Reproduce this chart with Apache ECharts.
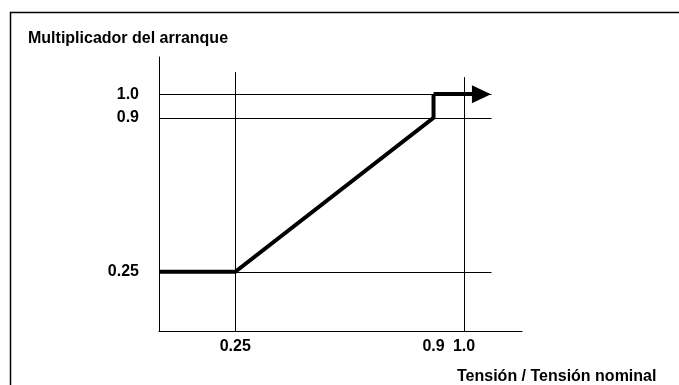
<!DOCTYPE html>
<html>
<head>
<meta charset="utf-8">
<script src="https://cdn.jsdelivr.net/npm/echarts@6/dist/echarts.min.js"></script>
<style>
  html, body { margin: 0; padding: 0; background: #fff; }
  #chart { width: 679px; height: 385px; }
</style>
</head>
<body>
<div id="chart"></div>
<script>
// curva del multiplicador (x = tension / tension nominal, y = multiplicador)
var curveX = [0, 0.25, 0.9, 0.9];
var curveY = [0.25, 0.25, 0.9, 1.0];
var arrowEndX = 1.057;
// marcas de los ejes
var xTicks = [0.25, 0.9, 1.0];
var yTicks = [0.25, 0.9, 1.0];
var xLabels = ['0.25', '0.9', '1.0'];
var yLabels = ['0.25', '0.9', '1.0'];
// longitud de las lineas de referencia
var hGridEnd = 1.09;
var vGridTop = [1.093, 1.093, 1.072];
var vGridBottom = [0, -0.02, 0];

var font = 'Liberation Sans, Arial, sans-serif';

var chart = echarts.init(document.getElementById('chart'), null, { renderer: 'canvas' });

var curveData = curveX.map(function (x, i) { return [x, curveY[i]]; });

var gridLines = [];
// horizontales
gridLines.push([{ coord: [0, yTicks[2]] }, { coord: [hGridEnd, yTicks[2]] }]);
gridLines.push([{ coord: [0, yTicks[1]] }, { coord: [hGridEnd, yTicks[1]] }]);
gridLines.push([{ coord: [xTicks[0], yTicks[0]] }, { coord: [hGridEnd, yTicks[0]] }]);
// verticales
xTicks.forEach(function (x, i) {
    gridLines.push([{ coord: [x, vGridBottom[i]] }, { coord: [x, vGridTop[i]] }]);
});

function labelOf(values, labels) {
    return function (v) {
        for (var i = 0; i < values.length; i++) {
            if (Math.abs(values[i] - v) < 1e-6) return labels[i];
        }
        return '';
    };
}

var option = {
    animation: false,
    backgroundColor: '#fff',
    title: [{
        text: 'Multiplicador del arranque',
        left: 28, top: 31, padding: 0,
        textStyle: { fontFamily: font, fontSize: 16, fontWeight: 'bold', color: '#000' }
    }, {
        text: 'Tensión / Tensión nominal',
        left: 457, top: 369, padding: 0,
        textStyle: { fontFamily: font, fontSize: 16, fontWeight: 'bold', color: '#000' }
    }],
    graphic: [{
        type: 'rect',
        shape: { x: 10.5, y: 12.5, width: 720, height: 420 },
        style: { fill: 'none', stroke: '#000', lineWidth: 1.5 },
        silent: true
    }],
    grid: { left: 159, right: 157, top: 57, bottom: 54 },
    xAxis: {
        type: 'value', min: 0, max: 1.19,
        axisLine: { lineStyle: { color: '#000', width: 1 } },
        axisTick: { show: false },
        splitLine: { show: false },
        axisLabel: {
            customValues: xTicks,
            formatter: labelOf(xTicks, xLabels),
            margin: 8,
            color: '#000', fontFamily: font, fontSize: 16, fontWeight: 'bold'
        }
    },
    yAxis: {
        type: 'value', min: 0, max: 1.157,
        axisLine: { show: true, lineStyle: { color: '#000', width: 1 } },
        axisTick: { show: false },
        splitLine: { show: false },
        axisLabel: {
            customValues: yTicks,
            formatter: labelOf(yTicks, yLabels),
            margin: 20,
            color: '#000', fontFamily: font, fontSize: 16, fontWeight: 'bold'
        }
    },
    series: [{
        type: 'line',
        data: [],
        silent: true,
        markLine: {
            silent: true,
            symbol: ['none', 'none'],
            label: { show: false },
            lineStyle: { color: '#000', width: 1, type: 'solid' },
            data: gridLines
        }
    }, {
        type: 'line',
        data: curveData,
        showSymbol: false,
        silent: true,
        lineStyle: { color: '#000', width: 4, join: 'miter' },
        markLine: {
            silent: true,
            symbol: ['none', 'triangle'],
            symbolSize: [18, 19],
            label: { show: false },
            lineStyle: { color: '#000', width: 4, type: 'solid' },
            data: [[{ coord: curveData[curveData.length - 1] }, { coord: [arrowEndX, curveY[curveY.length - 1]] }]]
        }
    }]
};

chart.setOption(option);
</script>
</body>
</html>
